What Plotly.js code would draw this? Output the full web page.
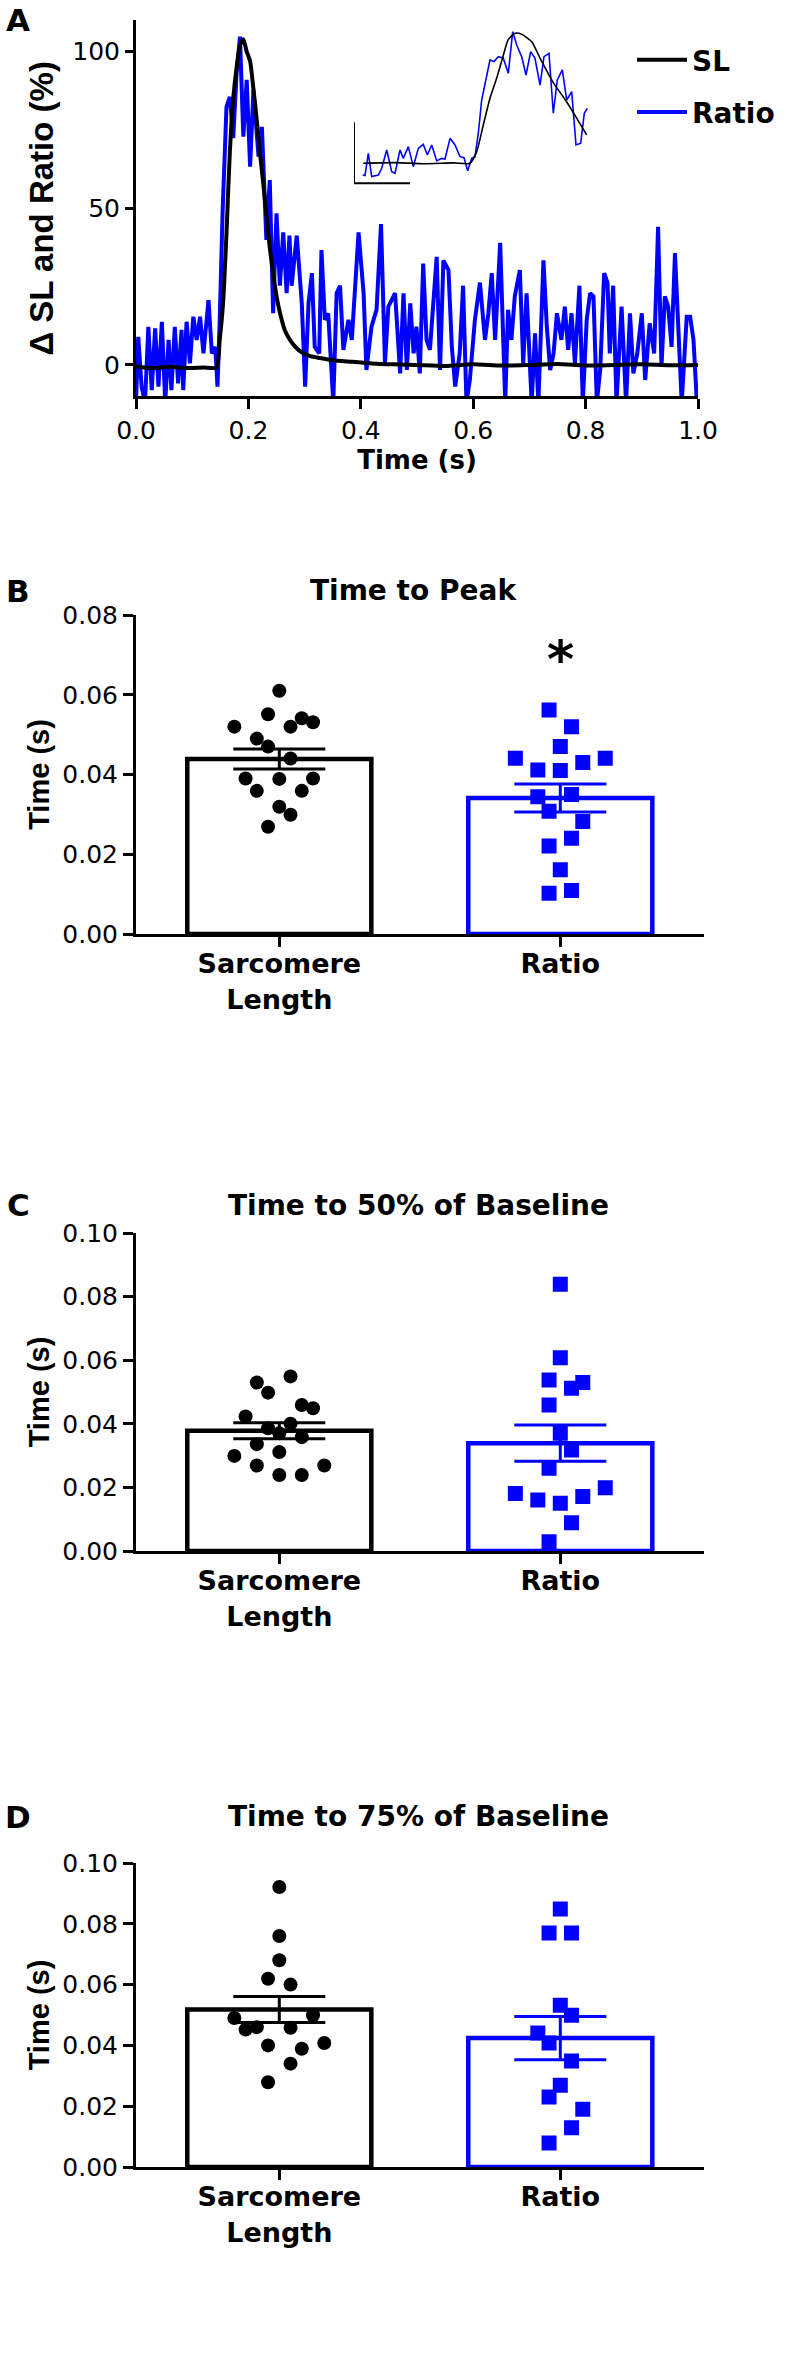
<!DOCTYPE html>
<html>
<head>
<meta charset="utf-8">
<script src="https://cdn.plot.ly/plotly-3.0.1.min.js"></script>
<style>html,body{margin:0;padding:0;background:#fff;}#chart{width:790px;height:2362px;}</style>
</head>
<body>
<div id="chart"></div>
<script>
// ---------------- DATA ----------------
// Panel A: normalised transients (% of peak) vs time (s)
const slTime = [0, 0.03, 0.06, 0.09, 0.12, 0.143, 0.149, 0.155, 0.161, 0.167, 0.173, 0.179, 0.185, 0.191, 0.197, 0.203, 0.209, 0.215, 0.221, 0.227, 0.233, 0.239, 0.245, 0.251, 0.257, 0.265, 0.274, 0.285, 0.297, 0.31, 0.327, 0.35, 0.386, 0.42, 0.46, 0.5, 0.55, 0.6, 0.65, 0.7, 0.75, 0.8, 0.85, 0.9, 0.95, 1.0];
const slValue = [-0.5, -1, -0.6, -1, -0.8, -0.8, 8, 20, 42, 68, 85, 95, 102, 104, 100, 97, 88, 78, 67, 57, 46, 36, 28, 21, 16, 11, 8, 5.5, 3.8, 2.8, 2.2, 1.5, 1, 0.5, 0.2, 0, -0.3, 0.2, -0.2, 0, 0.3, -0.2, 0, 0.2, -0.1, 0];

const ratioTime = [0.000, 0.004, 0.010, 0.016, 0.022, 0.028, 0.034, 0.040, 0.046, 0.052, 0.058, 0.063, 0.069, 0.075, 0.081, 0.084, 0.090, 0.096, 0.102, 0.108, 0.114, 0.120, 0.129, 0.135, 0.141, 0.145, 0.149, 0.154, 0.161, 0.167, 0.173, 0.179, 0.185, 0.191, 0.197, 0.203, 0.209, 0.218, 0.224, 0.232,
  0.238, 0.244, 0.250, 0.256, 0.262, 0.268, 0.273, 0.277, 0.286, 0.295, 0.301, 0.307, 0.313, 0.318, 0.326, 0.330, 0.336, 0.342, 0.351, 0.357, 0.363, 0.369, 0.378, 0.384, 0.396, 0.405, 0.410, 0.419, 0.428, 0.436, 0.443, 0.449, 0.461, 0.470, 0.476, 0.482,
  0.488, 0.494, 0.499, 0.505, 0.511, 0.517, 0.523, 0.535, 0.541, 0.547, 0.556, 0.562, 0.568, 0.576, 0.582, 0.588, 0.594, 0.603, 0.612, 0.621, 0.627, 0.633, 0.639, 0.648, 0.657, 0.662, 0.668, 0.674, 0.683, 0.689, 0.695, 0.704, 0.710, 0.716, 0.725, 0.731, 0.737,
  0.743, 0.749, 0.757, 0.763, 0.769, 0.775, 0.781, 0.789, 0.795, 0.802, 0.808, 0.814, 0.820, 0.826, 0.833, 0.839, 0.843, 0.849, 0.855, 0.864, 0.872, 0.879, 0.885, 0.892, 0.900, 0.906, 0.914, 0.922, 0.929, 0.935, 0.941, 0.947, 0.953, 0.959, 0.965, 0.971, 0.980, 0.986, 0.992, 0.998];
const ratioValue = [-12, 9.0, -6.9, -12, 12.2, -8, 11.7, -6.9, 13.8, -12, 8.0, -8, 12.2, -5.9, 11.2, -8, 13.8, 0.5, 15.4, 8.0, 15.4, 3.7, 20.7, 3.7, 5.8, -6.9, 14.4, 48.4, 82.4, 85.6, 72.4, 93.1, 104.8, 72.9, 91, 63.3, 87.8, 66.5, 76, 39.9,
  59, 16.5, 48.4, 25.3, 42.3, 22.9, 41.3, 25.3, 41.3, 19.7, -6.9, 19.7, 29.3, 5.8, 3.7, 36.7, 14.4, 16.5, -12, 22.9, 25.3, 4.8, 14.4, 8, 42.3, 22.9, -1.6, 12.2, 17.6, 45, 0.5, 18.6, 22.9, -2.7, 22.9, -1.6,
  19.7, 3.7, 12.2, -2.7, 32.4, 8, 4.8, 34.5, -1.6, 33.4, 30.3, 5.8, -6.9, 3.7, 25.3, -12, -4.8, 14.4, 26.3, 8, 16.5, 29.3, 8, 39, -12, 17.6, 8, 21.9, 30.3, 0.5, 22.9, -12, 10.1, -12, 33.4, 12.2, -1.6,
  3.7, 16.5, 8, 18.6, 4.8, 16.5, 0.5, 25.3, -12, 14.4, 22.9, 21.9, -12, -1.6, 29.3, 26.3, 3.7, 25.3, -12, 18.6, -12, 16.5, -2.7, 3.7, 16.5, -4.8, 13.3, 3.7, 44.1, -0.6, 21.9, 18.6, 5.8, 35.7, 8, -12, 15.4, 15.4, 8, -12];

// Panel A inset (expanded time base, ms; % of peak)
const insetSLTime = [9.3, 40, 70, 100, 116, 122.7, 129.3, 136, 142.7, 149.3, 154, 161, 167.7, 177.7, 186, 199, 212.7, 222.7, 232.7];
const insetSLValue = [0, 0.5, -0.3, 0.3, 0, 9, 29.5, 50, 65.6, 83, 94.8, 100, 99.2, 93.5, 81, 62.5, 47.2, 34.8, 21.8];
const insetRatioTime = [8.7, 11, 14.3, 17.7, 24.3, 27.7, 32.7, 37.7, 41, 46, 49.3, 54.3, 59.3, 64.3, 69.3, 73.3, 77.7, 82.7, 87.7, 91, 96, 101, 106, 110, 113.7, 117.7, 121, 124.3, 127.7, 132.7, 136, 140, 144.3, 149.3, 154.3, 158.7, 162.7, 167.7, 172, 176.7, 181, 186, 190, 195, 199.3, 203.3, 208.3, 212.7, 217.7, 222, 226.7, 230.3, 233.3];
const insetRatioValue = [-9, -9.4, 7.7, -10.2, -9, -3.8, 10.2, -6.5, -7.7, 10.2, 3.8, 12.8, -2.6, 11.5, 14.6, 6.4, 14.1, 1.8, 3.8, 3.3, 19.2, 14.1, 5.1, 4.3, -5.7, 3.8, 5.1, 23.1, 48.7, 67.9, 79.5, 78.2, 82, 80.8, 69.2, 101.3, 91, 82, 67.9, 85.9, 80.8, 60.2, 82, 84.6, 38.5, 64.1, 71.8, 48.7, 55.1, 14.1, 15.4, 38.5, 42.3];
const scaleBarTime = 56;     // ms
const scaleBarPercent = 47;  // %

// Panels B-D
const categories = ['Sarcomere<br>Length', 'Ratio'];
const seriesNames = ['Sarcomere Length', 'Ratio'];

const bSL = [0.0610, 0.0551, 0.0541, 0.0531, 0.0520, 0.0520, 0.0490, 0.0470, 0.0440, 0.0390, 0.0389, 0.0390, 0.0359, 0.0359, 0.0319, 0.0299, 0.0269];
const bSLSlot = [0, -1, 2, 3, -4, 1, -2, -1, 1, -3, 0, 3, -2, 2, 0, 1, -1];
const bRatio = [0.0562, 0.0520, 0.0470, 0.0441, 0.0430, 0.0441, 0.0411, 0.0410, 0.0344, 0.0350, 0.0308, 0.0282, 0.0240, 0.0221, 0.0161, 0.0102, 0.0109];
const bRatioSlot = [-1, 1, 0, -4, 2, 4, -2, 0, -2, 1, -1, 2, 1, -1, 0, -1, 1];
const bMean = [0.0439, 0.0341];
const bSEM = [0.0025, 0.0035];

const cSL = [0.0549, 0.0530, 0.0498, 0.0459, 0.0449, 0.0423, 0.0386, 0.0400, 0.0370, 0.0358, 0.0336, 0.0311, 0.0299, 0.0269, 0.0269, 0.0239, 0.0239];
const cSLSlot = [1, -2, -1, 2, 3, -3, -1, 1, 0, 2, -2, 0, -4, -2, 4, 0, 2];
const cRatio = [0.0839, 0.0608, 0.0538, 0.0530, 0.0512, 0.0459, 0.0370, 0.0318, 0.0260, 0.0199, 0.0181, 0.0160, 0.0150, 0.0171, 0.0089, 0.0029];
const cRatioSlot = [0, 0, -1, 2, 1, -1, 0, 1, -1, 4, -4, -2, 0, 2, 1, -1];
const cMean = [0.0378, 0.0339];
const cSEM = [0.0025, 0.0057];

const dSL = [0.0921, 0.0760, 0.0680, 0.0619, 0.0600, 0.0490, 0.0499, 0.0452, 0.0460, 0.0458, 0.0400, 0.0389, 0.0408, 0.0340, 0.0279];
const dSLSlot = [0, 0, 0, -1, 1, -4, 3, -3, -2, 1, -1, 2, 4, 1, -1];
const dRatio = [0.0849, 0.0770, 0.0770, 0.0532, 0.0499, 0.0441, 0.0408, 0.0349, 0.0269, 0.0230, 0.0190, 0.0129, 0.0079];
const dRatioSlot = [0, -1, 1, 0, 1, -2, -1, 1, 0, -1, 2, 1, -1];
const dMean = [0.0518, 0.0424];
const dSEM = [0.0043, 0.0071];

// ---------------- STYLE / LAYOUT ----------------
const W = 790, H = 2362;
const FONT = 'DejaVu Sans, Liberation Sans, Arial, sans-serif';
const VFONT = 'Liberation Sans, Arial, sans-serif';   // rotated titles
const BLACK = '#000000';
const BLUE = '#0000ff';
const px = v => v / W;
const py = v => 1 - v / H;
const SLOT = 0.04;

const traces = [];

// Panel A
traces.push({x: ratioTime, y: ratioValue, type: 'scatter', mode: 'lines', name: 'Ratio',
  line: {color: BLUE, width: 4}, xaxis: 'x', yaxis: 'y', legendgroup: 'ratio', legendrank: 2, hoverinfo: 'skip'});
traces.push({x: slTime, y: slValue, type: 'scatter', mode: 'lines', name: 'SL',
  line: {color: BLACK, width: 4, shape: 'spline', smoothing: 0.6}, xaxis: 'x', yaxis: 'y', legendgroup: 'sl', legendrank: 1, hoverinfo: 'skip'});
// Inset
traces.push({x: insetRatioTime, y: insetRatioValue, type: 'scatter', mode: 'lines', showlegend: false,
  line: {color: BLUE, width: 1.6}, xaxis: 'x2', yaxis: 'y2', hoverinfo: 'skip'});
traces.push({x: insetSLTime, y: insetSLValue, type: 'scatter', mode: 'lines', showlegend: false,
  line: {color: BLACK, width: 1.6, shape: 'spline', smoothing: 0.6}, xaxis: 'x2', yaxis: 'y2', hoverinfo: 'skip'});

function addBarPanel(xa, ya, mean, sem, slVals, slSlots, raVals, raSlots) {
  const colors = [BLACK, BLUE];
  for (let i = 0; i < 2; i++) {
    traces.push({type: 'bar', x: [i], y: [mean[i]], width: 0.655, name: seriesNames[i], showlegend: false,
      marker: {color: '#ffffff', line: {color: colors[i], width: 4.5}},
      error_y: {type: 'data', array: [sem[i]], arrayminus: [sem[i]], visible: true, color: colors[i], thickness: 3, width: 46},
      xaxis: xa, yaxis: ya, hoverinfo: 'skip'});
  }
  traces.push({type: 'scatter', mode: 'markers', x: slSlots.map(s => 0 + s * SLOT), y: slVals, showlegend: false,
    marker: {symbol: 'circle', size: 14, color: BLACK}, xaxis: xa, yaxis: ya, hoverinfo: 'skip'});
  traces.push({type: 'scatter', mode: 'markers', x: raSlots.map(s => 1 + s * SLOT), y: raVals, showlegend: false,
    marker: {symbol: 'square', size: 15, color: BLUE}, xaxis: xa, yaxis: ya, hoverinfo: 'skip'});
}
addBarPanel('x3', 'y3', bMean, bSEM, bSL, bSLSlot, bRatio, bRatioSlot);
addBarPanel('x4', 'y4', cMean, cSEM, cSL, cSLSlot, cRatio, cRatioSlot);
addBarPanel('x5', 'y5', dMean, dSEM, dSL, dSLSlot, dRatio, dRatioSlot);

const axLine = {showline: true, linecolor: BLACK, linewidth: 3, ticks: 'outside', tickcolor: BLACK, tickwidth: 3,
  showgrid: false, zeroline: false, fixedrange: true};
const tickFont = {family: FONT, size: 25, color: BLACK};
const boldFont = (s, f) => ({family: f || FONT, size: s, color: BLACK, weight: 'bold'});
const boldTitle = (t, s, f) => ({text: t, font: boldFont(s, f)});

function catX(anchor) {
  return Object.assign({}, axLine, {domain: [px(136), px(703.6)], range: [-0.51, 1.51], anchor: anchor,
    tickvals: [0, 1], ticktext: categories, ticklen: 10, ticklabelstandoff: -6, tickfont: boldFont(27)});
}
function valY(domain, top, anchor) {
  const tv = []; for (let v = 0; v <= top + 1e-9; v += 0.02) tv.push(+v.toFixed(2));
  return Object.assign({}, axLine, {domain: domain, range: [0, top], anchor: anchor, tickvals: tv, tickformat: '.2f',
    ticklen: 10, tickfont: tickFont, title: Object.assign(boldTitle('Time (s)', 29, VFONT), {standoff: 5})});
}
const note = (text, x, y, size) => ({text: text, xref: 'paper', yref: 'paper', x: px(x), y: py(y),
  xanchor: 'center', yanchor: 'middle', showarrow: false, font: boldFont(size)});

const layout = {
  width: W, height: H, margin: {l: 0, r: 0, t: 0, b: 0}, paper_bgcolor: '#ffffff', plot_bgcolor: 'rgba(0,0,0,0)',
  font: {family: FONT, color: BLACK}, barmode: 'overlay', showlegend: true,
  legend: {x: px(632), y: py(35), xanchor: 'left', yanchor: 'top', bgcolor: 'rgba(0,0,0,0)', tracegroupgap: 13,
    itemwidth: 50, font: boldFont(28)},
  xaxis: Object.assign({}, axLine, {domain: [px(136), px(698)], range: [0, 1], anchor: 'y', tickvals: [0, 0.2, 0.4, 0.6, 0.8, 1.0],
    tickformat: '.1f', ticklen: 10, tickfont: tickFont, title: Object.assign(boldTitle('Time (s)', 26), {standoff: 0})}),
  yaxis: Object.assign({}, axLine, {domain: [py(396.3), py(20.4)], range: [-10, 110], anchor: 'x', tickvals: [0, 50, 100],
    ticklen: 8, tickfont: tickFont, title: Object.assign(boldTitle('\u0394 SL and Ratio (%)', 33, VFONT), {standoff: 9})}),
  xaxis2: {domain: [px(354), px(590)], range: [0, 236], anchor: 'y2', visible: false, fixedrange: true},
  yaxis2: {domain: [py(185.4), py(29.4)], range: [-17, 103], anchor: 'x2', visible: false, fixedrange: true},
  xaxis3: catX('y3'),
  yaxis3: valY([py(934), py(615)], 0.08, 'x3'),
  xaxis4: catX('y4'),
  yaxis4: valY([py(1551), py(1233)], 0.10, 'x4'),
  xaxis5: catX('y5'),
  yaxis5: valY([py(2167), py(1863)], 0.10, 'x5'),
  shapes: [
    {type: 'line', xref: 'x2', yref: 'y2', x0: 0, x1: 0, y0: -15.4, y1: -15.4 + scaleBarPercent, line: {color: BLACK, width: 2}},
    {type: 'line', xref: 'x2', yref: 'y2', x0: 0, x1: scaleBarTime, y0: -15.4, y1: -15.4, line: {color: BLACK, width: 2}}
  ],
  annotations: [
    note('A', 18, 20, 31), note('B', 18, 591, 31), note('C', 18, 1205, 31), note('D', 18, 1817, 31),
    note('Time to Peak', 413, 590, 28),
    note('Time to 50% of Baseline', 418, 1205, 28),
    note('Time to 75% of Baseline', 418, 1817, 28),
    {text: '*', xref: 'x3', yref: 'y3', x: 1, y: 0.069, xanchor: 'center', yanchor: 'middle', showarrow: false, font: boldFont(52)}
  ]
};

Plotly.newPlot('chart', traces, layout, {staticPlot: true, displayModeBar: false});
</script>
</body>
</html>
